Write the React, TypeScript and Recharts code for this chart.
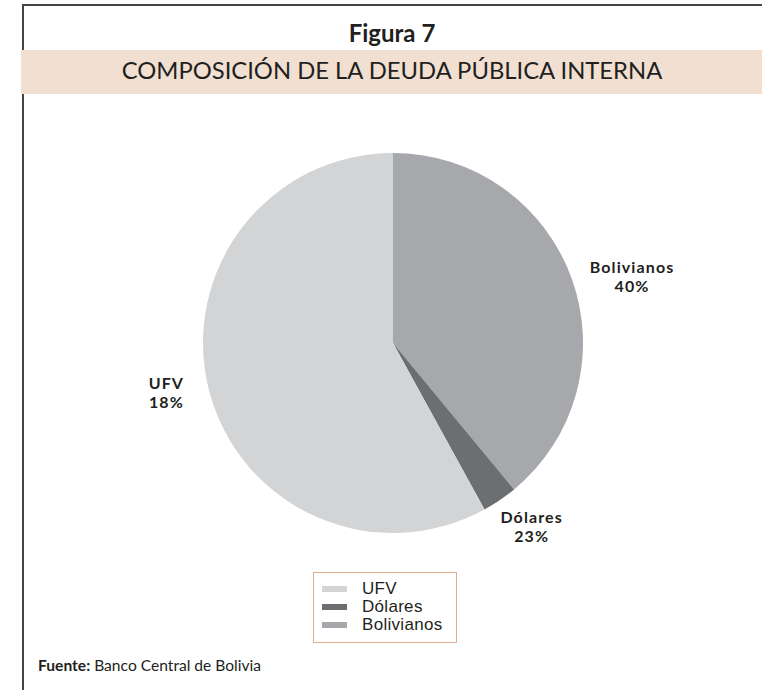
import React from "react";
import { PieChart, Pie, Cell } from "recharts";

// Composición de la deuda pública interna (lectura de la figura)
const categorias = ["Bolivianos", "Dólares", "UFV"];
const valores = [39, 3, 58];
const etiquetas = ["40%", "23%", "18%"];
const colores = ["#a7a8ab", "#6d6e71", "#d3d4d6"];
const ordenLeyenda = ["UFV", "Dólares", "Bolivianos"];

const datos = categorias.map((c, i) => ({ name: c, value: valores[i] }));

const RADIAN = Math.PI / 180;
const fuente = "Lato, 'Open Sans', sans-serif";
// ajuste fino de la posición de cada etiqueta
const desplazar = [
  [17, 13],
  [6, -12],
  [2, -10],
];

const renderLabel = (props: any) => {
  const { cx, cy, midAngle, outerRadius, index } = props;
  const r = outerRadius + 46;
  const x = cx + r * Math.cos(-midAngle * RADIAN) + desplazar[index][0];
  const y = cy + r * Math.sin(-midAngle * RADIAN) + desplazar[index][1];
  return (
    <text
      x={x}
      y={y}
      textAnchor="middle"
      fill="#231f20"
      fontFamily="Lato, sans-serif"
      fontWeight={700}
      fontSize={16}
      letterSpacing={1.1}
    >
      <tspan x={x} dy={-3}>
        {categorias[index]}
      </tspan>
      <tspan x={x} dy={19}>
        {etiquetas[index]}
      </tspan>
    </text>
  );
};

const App: React.FC = () => {
  return (
    <div style={{ position: "relative", width: 762, height: 690, background: "#fff", fontFamily: fuente }}>
      <style>{`body{margin:0}`}</style>
      {/* marco */}
      <div style={{ position: "absolute", left: 22, top: 4, width: 740, height: 686, borderTop: "2px solid #444", borderLeft: "2px solid #444" }} />
      {/* banda del subtítulo */}
      <div style={{ position: "absolute", left: 21, top: 50, width: 741, height: 44, background: "#f1e0d1" }} />
      <div style={{ position: "absolute", left: 22, top: 18, width: 740, textAlign: "center", fontWeight: 700, fontSize: 24, color: "#231f20" }}>
        Figura 7
      </div>
      <div style={{ position: "absolute", left: 22, top: 56, width: 740, textAlign: "center", fontSize: 23.8, color: "#231f20" }}>
        COMPOSICIÓN DE LA DEUDA PÚBLICA INTERNA
      </div>

      <div style={{ position: "absolute", left: 0, top: 0 }}>
        <PieChart width={762} height={690} margin={{ top: 0, right: 0, bottom: 0, left: 0 }}>
          <Pie
            data={datos}
            dataKey="value"
            nameKey="name"
            cx={393}
            cy={343}
            outerRadius={190}
            startAngle={90}
            endAngle={-270}
            stroke="none"
            label={renderLabel}
            labelLine={false}
            isAnimationActive={false}
          >
            {datos.map((d, i) => (
              <Cell key={d.name} fill={colores[i]} />
            ))}
          </Pie>
        </PieChart>
      </div>

      {/* leyenda */}
      <div
        style={{
          position: "absolute",
          left: 313,
          top: 572,
          width: 144,
          height: 71,
          border: "1px solid #e0ad8c",
          boxSizing: "border-box",
          paddingTop: 7,
        }}
      >
        {ordenLeyenda.map((n) => (
          <div key={n} style={{ display: "flex", alignItems: "center", height: 18 }}>
            <div style={{ marginLeft: 8, width: 25, height: 6, background: colores[categorias.indexOf(n)] }} />
            <span style={{ marginLeft: 15, fontFamily: "'Liberation Sans', Arial, sans-serif", fontSize: 17, lineHeight: "18px", letterSpacing: 0.3, color: "#231f20" }}>
              {n}
            </span>
          </div>
        ))}
      </div>

      <div style={{ position: "absolute", left: 38, top: 656, fontSize: 15.6, color: "#231f20" }}>
        <b>Fuente:</b> Banco Central de Bolivia
      </div>
    </div>
  );
};

export default App;
